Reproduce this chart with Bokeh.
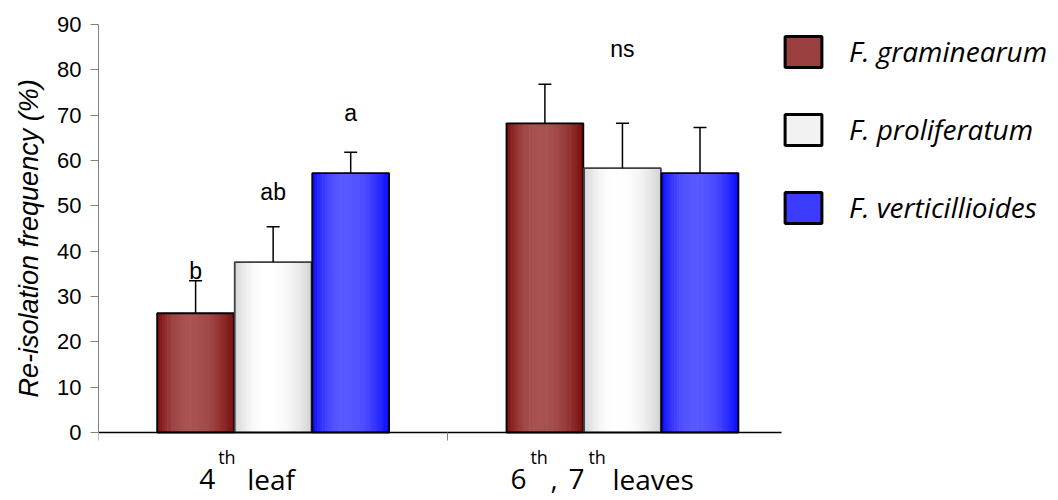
from bokeh.plotting import figure
from bokeh.models import (ColumnDataSource, Range1d, FixedTicker, Whisker, TeeHead,
                          Label, Legend, LegendItem, Title)
from bokeh.core.properties import value
from bokeh.embed import file_html
from bokeh.resources import INLINE

# ---------------- data ----------------
groups = ["4th leaf", "6th, 7th leaves"]
series = ["F. graminearum", "F. proliferatum", "F. verticillioides"]
graminearum = [26.3, 68.2]
proliferatum = [37.6, 58.3]
verticillioides = [57.2, 57.2]
graminearum_err = [7.2, 8.6]
proliferatum_err = [7.8, 9.9]
verticillioides_err = [4.6, 10.1]
letters = ["b", "ab", "a", "ns"]
y_ticks = [0, 10, 20, 30, 40, 50, 60, 70, 80, 90]

values = [graminearum, proliferatum, verticillioides]
errors = [graminearum_err, proliferatum_err, verticillioides_err]

# ---------------- style / layout ----------------
EDGE = ["#780b0b", "#d2d2d2", "#0808ff"]
LIGHT = ["#a85252", "#ffffff", "#5858ff"]
MID = ["#9a3f3f", "#f2f2f2", "#3c3cff"]
OUTLINE = ["#000000", "#404040", "#000000"]
BAR_W = 0.22
OFFSETS = [-0.222, 0.0, 0.222]
N_STRIPS = 30
PX_PER_GROUP = 349.3
FRAME_W = 1058 - 98
group_x = [i + 0.5 for i in range(len(groups))]
# letter anchors: (group, series-or-None, height)
letter_anchor = [(0, 0, 35.6), (0, 1, 53.0), (0, 2, 70.5), (1, None, 84.6)]
# category label pieces: (text, x offset px from group centre, superscript?)
label_pieces = [
    [("4", -74, False), ("th", -55, True), ("leaf", -26, False)],
    [("6", -112, False), ("th", -92, True), (",", -72, False), ("7", -54, False),
     ("th", -34, True), ("leaves", -10, False)],
]

FONT = "Liberation Sans"
CAT_FONT = "Open Sans"

def hex2rgb(h):
    return tuple(int(h[i:i + 2], 16) for i in (1, 3, 5))

def mix(a, b, t):
    ra, rb = hex2rgb(a), hex2rgb(b)
    return "#%02x%02x%02x" % tuple(int(round(x + (y - x) * t)) for x, y in zip(ra, rb))

def profile(u):
    peak = 0.42
    if u < peak:
        d = (peak - u) / peak
    else:
        d = (u - peak) / (1 - peak)
    return max(0.0, 1 - d ** 2.2)

# frame spans page y 24..500 ; 0..90 maps to 24..432
PX_PER_UNIT = (432 - 24) / 90.0
y_start = -(500 - 432) / PX_PER_UNIT

p = figure(width=1058, height=500, output_backend="svg", toolbar_location=None,
           x_range=Range1d(0, FRAME_W / PX_PER_GROUP), y_range=Range1d(y_start, 90),
           x_axis_location="above",
           min_border_left=98, min_border_right=0, min_border_top=24, min_border_bottom=0,
           outline_line_color=None)
p.xgrid.visible = False
p.ygrid.visible = False

# gradient bars via thin strips
sx, sw, st, sc = [], [], [], []
bx, bt, bl, up, bs = [], [], [], [], []
for s, vals in enumerate(values):
    for g, v in enumerate(vals):
        cx = group_x[g] + OFFSETS[s]
        for k in range(N_STRIPS):
            u = (k + 0.5) / N_STRIPS
            sx.append(cx - BAR_W / 2 + u * BAR_W)
            sw.append(BAR_W / N_STRIPS * 1.25)
            st.append(v)
            sc.append(mix(EDGE[s], LIGHT[s], profile(u)))
        bx.append(cx)
        bt.append(v)
        bl.append(OUTLINE[s])
        up.append(v + errors[s][g])
        bs.append(s)

p.vbar(x="x", top="top", width="w", bottom=0, fill_color="c", line_color=None,
       source=ColumnDataSource(dict(x=sx, top=st, w=sw, c=sc)))
bar_src = ColumnDataSource(dict(x=bx, top=bt, up=up, lc=bl))
p.vbar(x="x", top="top", width=BAR_W, bottom=0, fill_color=None, line_color="lc",
       line_width=1.8, source=bar_src)

whisk = Whisker(source=bar_src, base="x", lower="top", upper="up", dimension="height",
                lower_head=None, upper_head=TeeHead(size=13, line_width=1.5, line_color="black"),
                line_width=1.5, line_color="black", level="overlay")
p.add_layout(whisk)

# significance letters
lx, ly = [], []
for g, s, h in letter_anchor:
    lx.append(group_x[g] + (OFFSETS[s] if s is not None else 0))
    ly.append(h)
p.text(x=lx, y=ly, text=letters, text_font=value(FONT), text_font_size="23px",
       text_align="center", text_baseline="alphabetic", text_color="black")

# y axis
p.yaxis.ticker = FixedTicker(ticks=y_ticks)
p.yaxis.bounds = (0, 90)
p.yaxis.axis_line_color = "#808080"
p.yaxis.major_tick_line_color = "#808080"
p.yaxis.major_tick_out = 8
p.yaxis.major_tick_in = 0
p.yaxis.minor_tick_line_color = None
p.yaxis.major_label_text_font = FONT
p.yaxis.major_label_text_font_size = "22px"
p.yaxis.major_label_text_color = "black"
p.yaxis.major_label_standoff = 9

# y axis title (left-side title, started at the bottom of the 0..90 span)
ytitle = Title(text="Re-isolation frequency (%)", align="left", offset=103,
               standoff=22,
               text_font=FONT, text_font_style="italic", text_font_size="27px",
               text_color="black")
p.add_layout(ytitle, "left")

# x axis drawn at y = 0 inside the frame
p.xaxis.fixed_location = 0
p.xaxis.ticker = FixedTicker(ticks=[0, 1])
p.xaxis.bounds = (-0.023, 1.954)
p.xaxis.axis_line_color = "black"
p.xaxis.axis_line_width = 1.5
p.xaxis.major_tick_line_color = "#808080"
p.xaxis.major_tick_out = 0
p.xaxis.major_tick_in = 8
p.xaxis.minor_tick_line_color = None
p.xaxis.major_label_overrides = {0: "", 1: ""}

# category labels with superscripts
for g, pieces in enumerate(label_pieces):
    for txt, off, sup in pieces:
        p.add_layout(Label(x=group_x[g], y=0, x_offset=off, y_offset=(-24 if sup else -46),
                           text=txt, text_font=CAT_FONT,
                           text_font_size=("18px" if sup else "28px"),
                           text_align="left", text_baseline="alphabetic",
                           text_color="black"))

# legend (proxy renderers hidden; drawn only in the legend)
items = []
for s, name in enumerate(series):
    src = ColumnDataSource(dict(x=[bx[i] for i in range(len(bx)) if bs[i] == s],
                                top=[bt[i] for i in range(len(bt)) if bs[i] == s]))
    r = p.vbar(x="x", top="top", width=BAR_W, source=src, fill_color=MID[s],
               line_color="black", line_width=3, visible=False)
    items.append(LegendItem(label=name, renderers=[r]))
legend = Legend(items=items, location=(682, 500 - 226.5), glyph_width=46, glyph_height=39,
                spacing=39, label_standoff=23, padding=0, margin=0,
                border_line_color=None, background_fill_alpha=0,
                inactive_fill_alpha=0,
                label_text_font=CAT_FONT, label_text_font_style="italic",
                label_text_font_size="28px", label_text_color="black")
p.add_layout(legend)

open("out.html", "w").write(file_html(p, INLINE))
